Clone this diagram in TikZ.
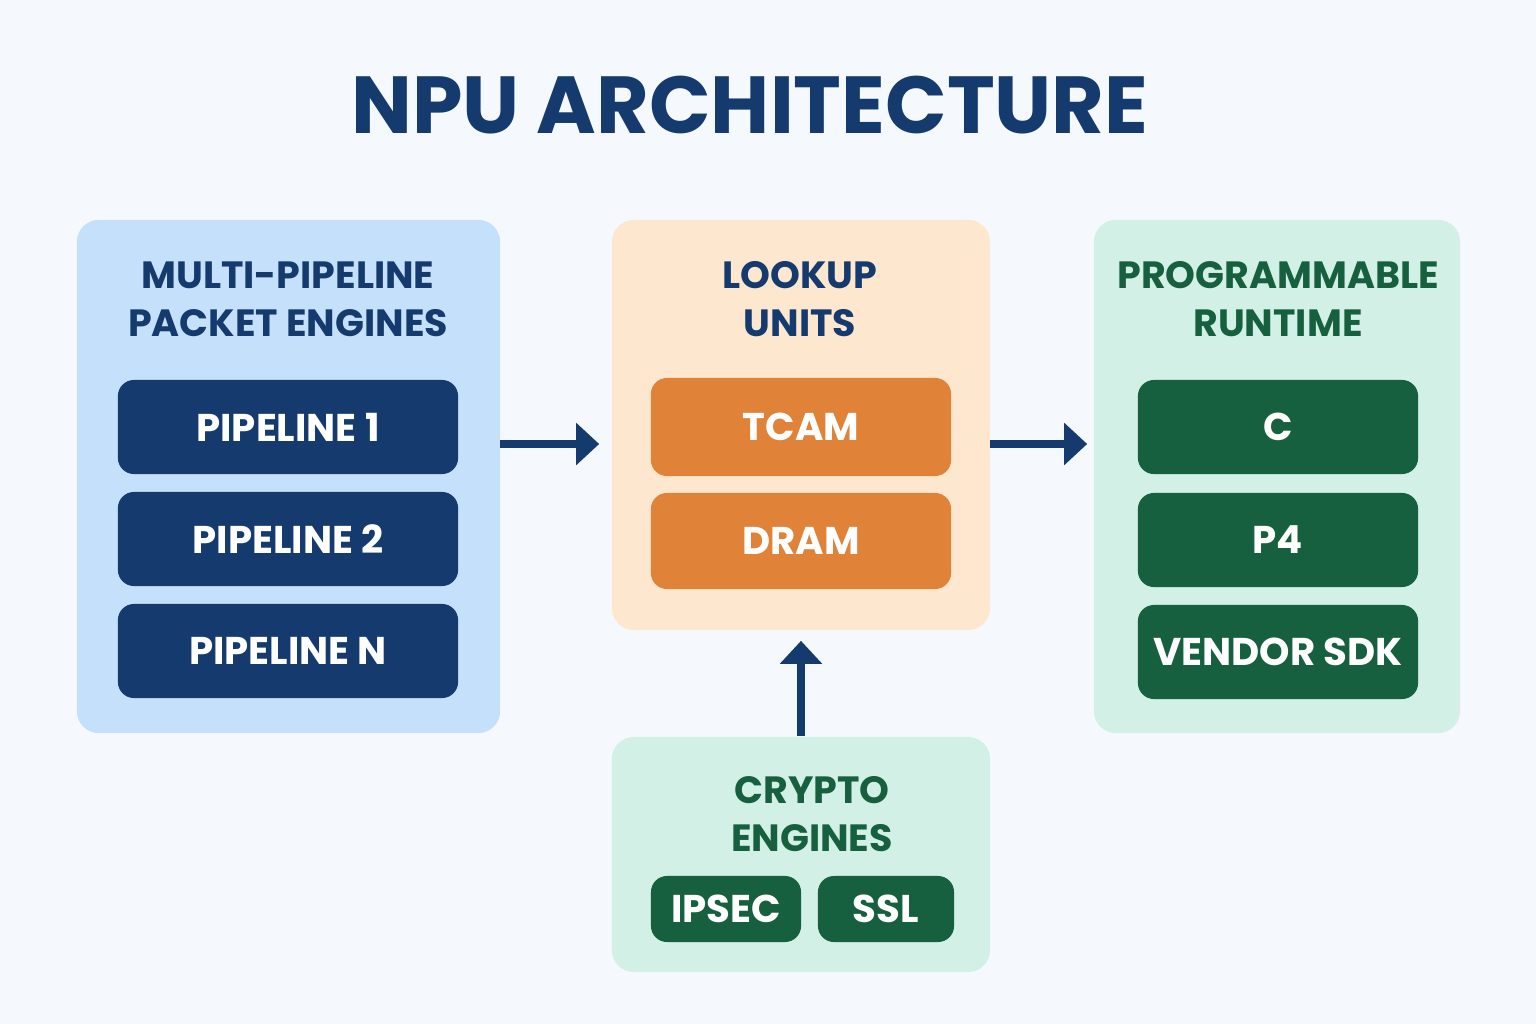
\documentclass[tikz,border=0pt]{standalone}
\usepackage{fontspec}
\setmainfont{Poppins}
\usetikzlibrary{arrows.meta, positioning}

\definecolor{bgcol}{HTML}{F5F9FE}
\definecolor{navy}{HTML}{143A6E}
\definecolor{skyfill}{HTML}{C5E0FA}
\definecolor{peach}{HTML}{FDE7CF}
\definecolor{orange}{HTML}{E08238}
\definecolor{mint}{HTML}{D3F0E6}
\definecolor{forest}{HTML}{17603F}

\begin{document}
\begin{tikzpicture}[x=0.01cm, y=-0.01cm,
    panel/.style={rounded corners=0.22cm, inner sep=0pt},
    unit/.style={rounded corners=0.16cm, inner sep=0pt, text=white,
        font=\fontsize{11}{13}\selectfont\bfseries},
    head/.style={align=center, font=\fontsize{10.8}{13.7}\selectfont\bfseries},
    arr/.style={line width=0.08cm, navy, -{Triangle[width=0.41cm, length=0.23cm]}}]
    \fill[bgcol] (0,0) rectangle (1536,1024);

    \node[font=\fontsize{23}{28}\selectfont\bfseries, text=navy] (title) at (750,105) {NPU ARCHITECTURE};

    % packet engines
    \node[panel, fill=skyfill, minimum width=4.23cm, minimum height=5.13cm] (engines) at (288.5,476.5) {};
    \node[head, text=navy] (enghead) at (288,299) {MULTI-PIPELINE\\PACKET ENGINES};
    \node[unit, fill=navy, minimum width=3.4cm, minimum height=0.94cm] (pipe1) at (288,427) {PIPELINE 1};
    \node[unit, fill=navy, minimum width=3.4cm, minimum height=0.94cm] (pipe2) at (288,539) {PIPELINE 2};
    \node[unit, fill=navy, minimum width=3.4cm, minimum height=0.94cm] (pipen) at (288,651) {PIPELINE N};

    % lookup units
    \node[panel, fill=peach, minimum width=3.78cm, minimum height=4.1cm] (lookup) at (801,425) {};
    \node[head, text=navy] (lookhead) at (800,299) {LOOKUP\\UNITS};
    \node[unit, fill=orange, minimum width=3.0cm, minimum height=0.98cm] (tcam) at (801,427) {TCAM};
    \node[unit, fill=orange, minimum width=3.0cm, minimum height=0.96cm] (dram) at (801,541) {DRAM};

    % runtime
    \node[panel, fill=mint, minimum width=3.66cm, minimum height=5.13cm] (runtime) at (1277,476.5) {};
    \node[head, text=forest] (runhead) at (1278,299) {PROGRAMMABLE\\RUNTIME};
    \node[unit, fill=forest, minimum width=2.8cm, minimum height=0.94cm] (langc) at (1278,427) {C};
    \node[unit, fill=forest, minimum width=2.8cm, minimum height=0.94cm] (langp) at (1278,540) {P4};
    \node[unit, fill=forest, minimum width=2.8cm, minimum height=0.94cm] (sdk) at (1278,652) {VENDOR SDK};

    % crypto
    \node[panel, fill=mint, minimum width=3.78cm, minimum height=2.35cm] (crypto) at (801,854.5) {};
    \node[head, text=forest] (cryhead) at (812,814) {CRYPTO\\ENGINES};
    \node[unit, fill=forest, minimum width=1.5cm, minimum height=0.66cm] (ipsec) at (726,909) {IPSEC};
    \node[unit, fill=forest, minimum width=1.36cm, minimum height=0.66cm] (ssl) at (886,909) {SSL};

    % flow
    \coordinate (a1) at (500,444);
    \coordinate (a2) at (990,444);
    \draw[arr, shorten >=0.12cm] (a1) -- (a1 -| lookup.west);
    \draw[arr, shorten >=0.06cm] (a2) -- (a2 -| runtime.west);
    \draw[arr, shorten >=0.1cm] (crypto.north) -- (lookup.south);
\end{tikzpicture}
\end{document}
